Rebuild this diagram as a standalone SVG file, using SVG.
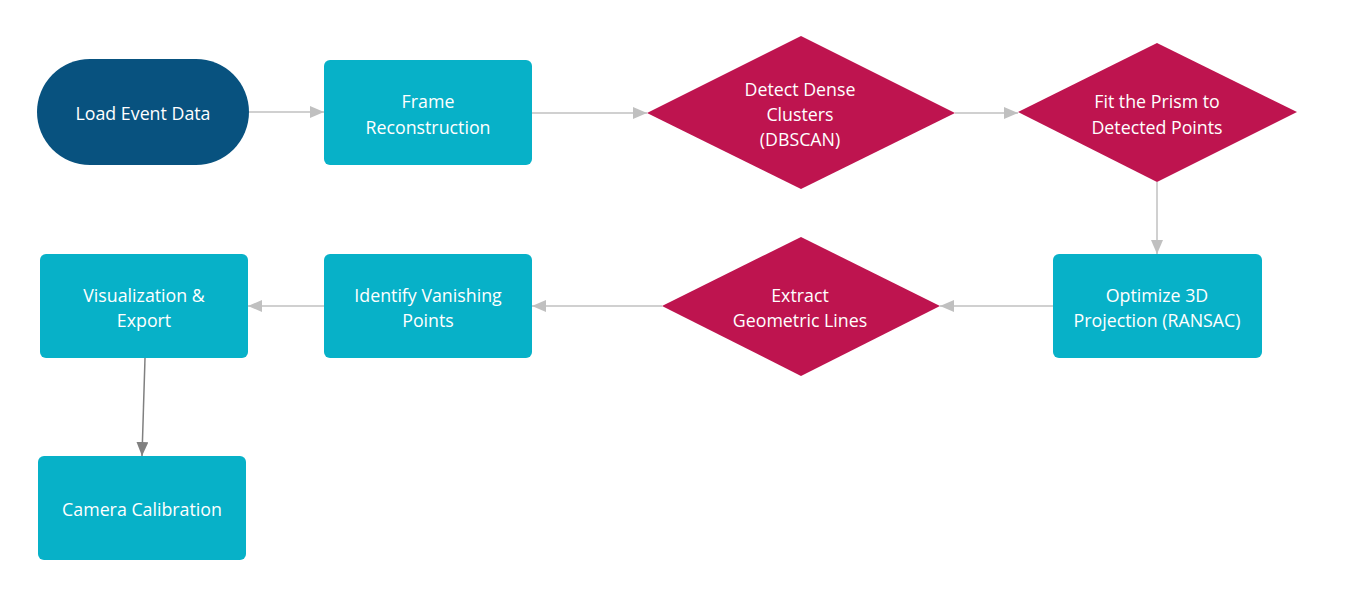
<svg xmlns="http://www.w3.org/2000/svg" width="1346" height="595" viewBox="0 0 1346 595">
<defs>
<marker id="ah" markerWidth="14" markerHeight="12" refX="14" refY="6" orient="auto" markerUnits="userSpaceOnUse"><path d="M0,0 L14,6 L0,12 Z" fill="#C0C0C0"/></marker>
<marker id="ahd" markerWidth="14" markerHeight="12" refX="14" refY="6" orient="auto" markerUnits="userSpaceOnUse"><path d="M0,0 L14,6 L0,12 Z" fill="#808080"/></marker>
<style>
.t{font-family:"Open Sans","Noto Sans",sans-serif;font-size:17.8px;fill:#fff;text-anchor:middle;dominant-baseline:central}
.box{fill:#07B1C8}
.dia{fill:#BE144F}
.c{stroke:#C0C0C0;stroke-width:1.5;fill:none;marker-end:url(#ah)}
.cd{stroke:#808080;stroke-width:1.5;fill:none;marker-end:url(#ahd)}
</style>
</defs>
<rect width="1346" height="595" fill="#fff"/>
<g id="connectors">
<line class="c" x1="249" y1="112" x2="324" y2="112"/>
<line class="c" x1="532" y1="113" x2="647" y2="113"/>
<line class="c" x1="955" y1="113" x2="1018" y2="113"/>
<line class="c" x1="1157" y1="182" x2="1157" y2="254"/>
<line class="c" x1="1053" y1="306" x2="940" y2="306"/>
<line class="c" x1="662" y1="306" x2="532" y2="306"/>
<line class="c" x1="324" y1="306" x2="248" y2="306"/>
<line class="cd" x1="145" y1="358" x2="142" y2="456"/>
</g>
<g id="load">
<rect x="37" y="59" width="212" height="106" rx="53" fill="#08527F"/>
<text class="t" x="143" y="113">Load Event Data</text>
</g>
<g id="frame">
<rect class="box" x="324" y="60" width="208" height="105" rx="6"/>
<text class="t" x="428" y="101">Frame</text>
<text class="t" x="428" y="127">Reconstruction</text>
</g>
<g id="detect">
<polygon class="dia" points="801,36 955,113 801,189 647,113"/>
<text class="t" x="800" y="89">Detect Dense</text>
<text class="t" x="800" y="114">Clusters</text>
<text class="t" x="800" y="139">(DBSCAN)</text>
</g>
<g id="fit">
<polygon class="dia" points="1157,43 1297,112 1157,182 1018,112"/>
<text class="t" x="1157" y="101">Fit the Prism to</text>
<text class="t" x="1157" y="127">Detected Points</text>
</g>
<g id="optimize">
<rect class="box" x="1053" y="254" width="209" height="104" rx="6"/>
<text class="t" x="1157" y="295">Optimize 3D</text>
<text class="t" x="1157" y="320">Projection (RANSAC)</text>
</g>
<g id="extract">
<polygon class="dia" points="801,237 940,306 801,376 662,306"/>
<text class="t" x="800" y="295">Extract</text>
<text class="t" x="800" y="320">Geometric Lines</text>
</g>
<g id="identify">
<rect class="box" x="324" y="254" width="208" height="104" rx="6"/>
<text class="t" x="428" y="295">Identify Vanishing</text>
<text class="t" x="428" y="320">Points</text>
</g>
<g id="viz">
<rect class="box" x="40" y="254" width="208" height="104" rx="6"/>
<text class="t" x="144" y="295">Visualization &amp;</text>
<text class="t" x="144" y="320">Export</text>
</g>
<g id="camera">
<rect class="box" x="38" y="456" width="208" height="104" rx="6"/>
<text class="t" x="142" y="509">Camera Calibration</text>
</g>
</svg>
